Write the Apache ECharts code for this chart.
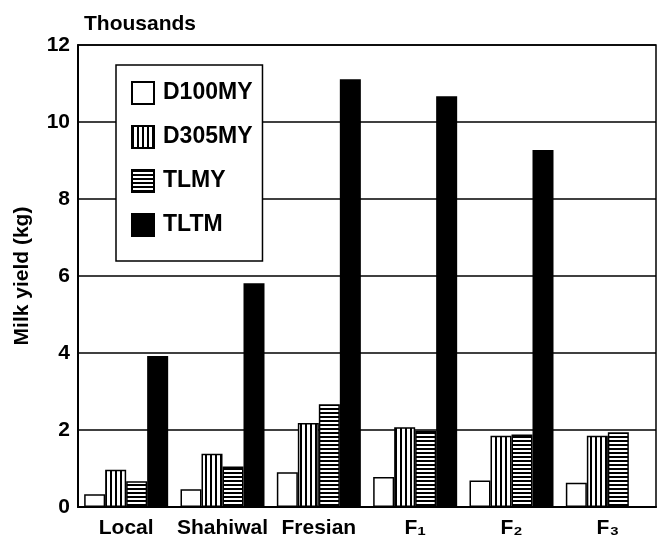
<!DOCTYPE html>
<html>
<head>
<meta charset="utf-8">
<script src="https://cdn.jsdelivr.net/npm/echarts@6/dist/echarts.min.js"></script>
<style>html,body{margin:0;padding:0;background:#fff;}#c{width:663px;height:542px;}</style>
</head>
<body>
<div id="c"></div>
<script>
const categories = ['Local', 'Shahiwal', 'Fresian', 'F₁', 'F₂', 'F₃'];
const seriesNames = ['D100MY', 'D305MY', 'TLMY', 'TLTM'];
const d100my = [0.33, 0.46, 0.90, 0.78, 0.69, 0.63];
const d305my = [0.97, 1.38, 2.18, 2.07, 1.85, 1.85];
const tlmy = [0.67, 1.05, 2.67, 1.98, 1.88, 1.94];
const tltm = [3.92, 5.81, 11.11, 10.67, 9.27, null];
const yTicks = { min: 0, max: 12, interval: 2 };

function stripe(vertical) {
  const c = document.createElement('canvas');
  if (vertical) {
    c.width = 5; c.height = 5;
    const g = c.getContext('2d');
    g.fillStyle = '#fff'; g.fillRect(0, 0, 5, 5);
    g.fillStyle = '#000'; g.fillRect(0, 0, 2, 5);
  } else {
    c.width = 4; c.height = 4;
    const g = c.getContext('2d');
    g.fillStyle = '#fff'; g.fillRect(0, 0, 4, 4);
    g.fillStyle = '#000'; g.fillRect(0, 0, 4, 2);
  }
  return { image: c, repeat: 'repeat' };
}

const fills = ['#ffffff', stripe(true), stripe(false), '#000000'];
const datas = [d100my, d305my, tlmy, tltm];
const FONT = 'Liberation Sans, Arial, sans-serif';

const chart = echarts.init(document.getElementById('c'), null, { renderer: 'canvas' });
chart.setOption({
  animation: false,
  backgroundColor: '#fff',
  title: {
    text: 'Thousands', left: 79, top: 9,
    textStyle: { fontFamily: FONT, fontSize: 21, fontWeight: 'bold', color: '#000' }
  },
  grid: { left: 78, right: 7, top: 45, bottom: 35, show: true, borderColor: '#000', borderWidth: 1.5 },
  legend: {
    orient: 'vertical', left: 116, top: 65,
    data: seriesNames,
    icon: 'rect', itemWidth: 22, itemHeight: 22, itemGap: 20,
    padding: [16, 10, 24, 15],
    backgroundColor: '#fff', borderColor: '#000', borderWidth: 1.5,
    textStyle: { fontFamily: FONT, fontSize: 23, fontWeight: 'bold', color: '#000', padding: [0, 0, 0, 4] }
  },
  xAxis: {
    type: 'category', data: categories,
    axisLine: { show: true, lineStyle: { color: '#000', width: 2 } },
    axisTick: { show: false },
    axisLabel: { interval: 0, fontFamily: FONT, fontSize: 21, fontWeight: 'bold', color: '#000', margin: 11 }
  },
  yAxis: {
    type: 'value', min: yTicks.min, max: yTicks.max, interval: yTicks.interval,
    name: 'Milk yield (kg)', nameLocation: 'middle', nameGap: 45,
    nameTextStyle: { fontFamily: FONT, fontSize: 21, fontWeight: 'bold', color: '#000' },
    axisLine: { show: true, lineStyle: { color: '#000', width: 2 } },
    axisTick: { show: false },
    axisLabel: { fontFamily: FONT, fontSize: 21, fontWeight: 'bold', color: '#000', margin: 8 },
    splitLine: { show: true, lineStyle: { color: '#000', width: 1.5 } }
  },
  series: seriesNames.map((n, i) => ({
    name: n, type: 'bar', data: datas[i],
    barWidth: 21, barGap: '0%',
    itemStyle: { color: fills[i], borderColor: '#000', borderWidth: 1.5 }
  }))
});
</script>
</body>
</html>
